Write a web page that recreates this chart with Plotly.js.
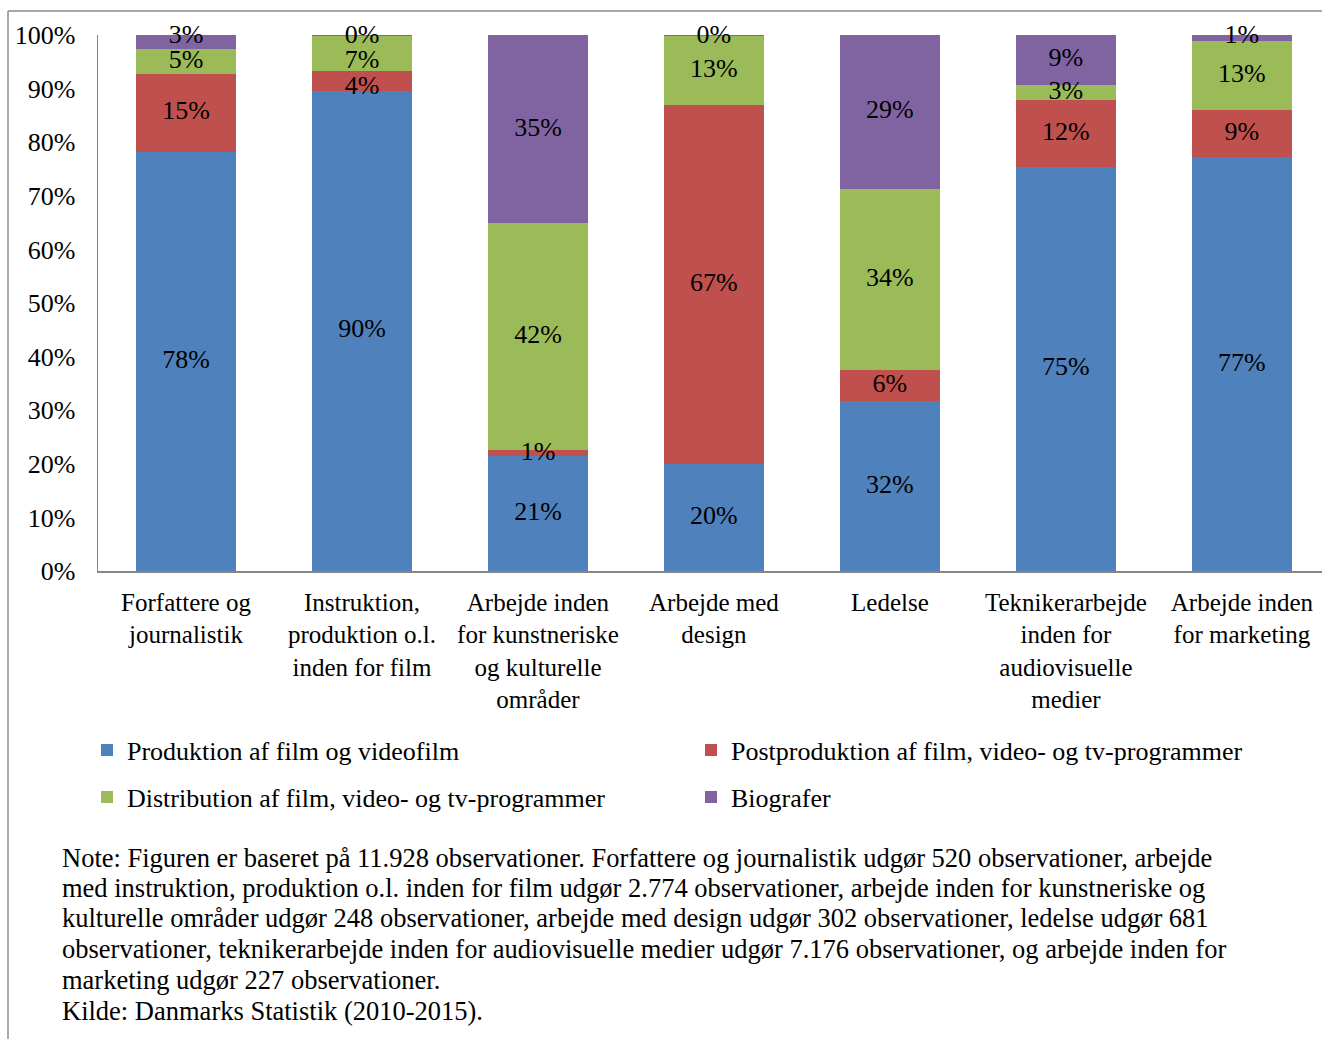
<!DOCTYPE html>
<html>
<head>
<meta charset="utf-8">
<script src="https://cdn.plot.ly/plotly-3.0.1.min.js"></script>
<style>
html,body{margin:0;padding:0;background:#fff;}
#chart{width:1322px;height:1039px;}
</style>
</head>
<body>
<div id="chart"></div>
<script>
// ---- data ----
var categories = [
  "Forfattere og<br>journalistik",
  "Instruktion,<br>produktion o.l.<br>inden for film",
  "Arbejde inden<br>for kunstneriske<br>og kulturelle<br>områder",
  "Arbejde med<br>design",
  "Ledelse",
  "Teknikerarbejde<br>inden for<br>audiovisuelle<br>medier",
  "Arbejde inden<br>for marketing"
];
var seriesNames = [
  "Produktion af film og videofilm",
  "Postproduktion af film, video- og tv-programmer",
  "Distribution af film, video- og tv-programmer",
  "Biografer"
];
var produktion     = [78.2, 89.6, 21.4, 20.0, 31.7, 75.4, 77.2];
var postproduktion = [14.6,  3.6,  1.2, 66.9,  5.8, 12.4,  8.8];
var distribution   = [ 4.6,  6.6, 42.3, 12.9, 33.8,  2.9, 12.9];
var biografer      = [ 2.6,  0.2, 35.1,  0.2, 28.7,  9.3,  1.1];
var yTickVals = [0,10,20,30,40,50,60,70,80,90,100];
var noteLines = [
  "Note: Figuren er baseret på 11.928 observationer. Forfattere og journalistik udgør 520 observationer, arbejde",
  "med instruktion, produktion o.l. inden for film udgør 2.774 observationer, arbejde inden for kunstneriske og",
  "kulturelle områder udgør 248 observationer, arbejde med design udgør 302 observationer, ledelse udgør 681",
  "observationer, teknikerarbejde inden for audiovisuelle medier udgør 7.176 observationer, og arbejde inden for",
  "marketing udgør 227 observationer.",
  "Kilde: Danmarks Statistik (2010-2015)."
];

// ---- styling ----
var colors = ["#4F81BD", "#C0504D", "#9BBB59", "#8064A2"];
var FONT = "Liberation Serif, Times New Roman, serif";
var W = 1322, H = 1039;
var ml = 98, mt = 35, mr = 0, mb = 468;
var pw = W - ml - mr, ph = H - mt - mb;
function px2x(px){ return (px - ml) / pw; }
function py2y(py){ return (H - mb - py) / ph; }

var allSeries = [produktion, postproduktion, distribution, biografer];
var legendIds = ["legend", "legend2", "legend3", "legend4"];
var traces = [];
allSeries.forEach(function(vals, i){
  traces.push({
    type: "bar",
    x: categories,
    y: vals,
    name: seriesNames[i],
    marker: {color: colors[i], line: {width: 0}},
    width: 0.568,
    legend: legendIds[i],
    hoverinfo: "skip"
  });
});

// data labels: segment centers; a very thin top segment gets its label at the
// stack top, and labels are kept a minimum distance apart (top-down).
var MIN_GAP = 4.8; // in axis units (%)
var lx = [], ly = [], lt = [];
categories.forEach(function(c, j){
  var base = 0, pos = [];
  allSeries.forEach(function(vals, k){
    var mid = base + vals[j] / 2;
    base += vals[j];
    if (k === allSeries.length - 1 && vals[j] < 3) mid = base - 0.2;
    pos.push(Math.min(mid, 99.8));
  });
  for (var k = pos.length - 2; k >= 0; k--) {
    if (pos[k + 1] - pos[k] < MIN_GAP) pos[k] = pos[k + 1] - MIN_GAP;
  }
  allSeries.forEach(function(vals, k){
    lx.push(c);
    ly.push(pos[k]);
    lt.push(Math.round(vals[j]) + "%");
  });
});
traces.push({
  type: "scatter",
  mode: "text",
  x: lx, y: ly, text: lt,
  textposition: "middle center",
  textfont: {family: FONT, size: 26, color: "#000"},
  showlegend: false,
  hoverinfo: "skip",
  cliponaxis: false
});

function legendAt(pxLeft, pyCenter){
  return {
    x: px2x(pxLeft), xanchor: "left",
    y: py2y(pyCenter), yanchor: "middle",
    orientation: "h",
    bgcolor: "rgba(0,0,0,0)",
    borderwidth: 0,
    font: {family: FONT, size: 26, color: "#000"},
    itemclick: false, itemdoubleclick: false
  };
}

var noteY = [858, 888, 918, 949, 980, 1011];
var annotations = noteLines.map(function(t, i){
  return {xref: "paper", yref: "paper",
    x: px2x(60), y: py2y(noteY[i]),
    xanchor: "left", yanchor: "middle", align: "left",
    showarrow: false, text: t,
    font: {family: FONT, size: 26.5, color: "#000"}};
});

var layout = {
  width: W, height: H,
  margin: {l: ml, r: mr, t: mt, b: mb, pad: 0},
  paper_bgcolor: "#fff",
  plot_bgcolor: "#fff",
  barmode: "stack",
  font: {family: FONT, size: 26, color: "#000"},
  xaxis: {
    type: "category",
    range: [-0.5, 6.455],
    showgrid: false,
    zeroline: false,
    showline: true,
    linecolor: "#868686",
    linewidth: 1.5,
    ticks: "",
    tickangle: 0,
    ticklabelstandoff: 8,
    tickfont: {family: FONT, size: 25, color: "#000"},
    fixedrange: true
  },
  yaxis: {
    range: [0, 100],
    tickvals: yTickVals,
    ticktext: yTickVals.map(function(v){ return v + "%"; }),
    showgrid: false,
    zeroline: false,
    showline: true,
    linecolor: "#868686",
    linewidth: 1.5,
    ticks: "",
    ticklabelstandoff: 16,
    tickfont: {family: FONT, size: 26, color: "#000"},
    fixedrange: true
  },
  legend:  legendAt(87, 750),
  legend2: legendAt(691, 750),
  legend3: legendAt(87, 797),
  legend4: legendAt(691, 797),
  shapes: [
    {type: "line", xref: "paper", yref: "paper",
     x0: px2x(8), x1: px2x(1340), y0: py2y(11), y1: py2y(11),
     line: {color: "#8c8c8c", width: 1.5}},
    {type: "line", xref: "paper", yref: "paper",
     x0: px2x(8), x1: px2x(8), y0: py2y(11), y1: py2y(1060),
     line: {color: "#8c8c8c", width: 1.5}}
  ],
  annotations: annotations
};

Plotly.newPlot("chart", traces, layout, {displayModeBar: false, staticPlot: true});
</script>
</body>
</html>
